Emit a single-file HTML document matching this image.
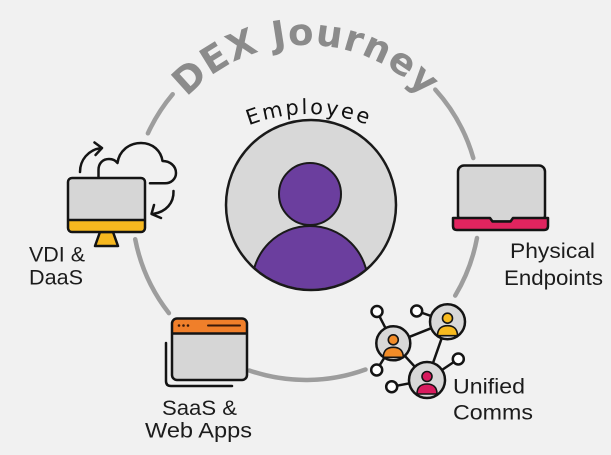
<!DOCTYPE html>
<html>
<head>
<meta charset="utf-8">
<style>
html,body{margin:0;padding:0;background:#f1f1f1;}
svg{display:block;}
text{font-family:"Liberation Sans", sans-serif;}
</style>
</head>
<body>
<svg width="611" height="455" viewBox="0 0 611 455" xmlns="http://www.w3.org/2000/svg">
  <defs>
    <path id="arcDex" d="M145,206 A161,161 0 0 1 467,206"/>
    <path id="arcEmp" d="M144,279 A165,165 0 0 1 474,279"/>
    <clipPath id="empClip"><circle cx="311" cy="205" r="84"/></clipPath>
  </defs>
  <rect width="611" height="455" fill="#f1f1f1"/>

  <!-- Ring segments -->
  <g fill="none" stroke="#9d9d9d" stroke-width="4.5" stroke-linecap="round">
    <path d="M435.3,89.6 A174,174 0 0 1 473.3,158"/>
    <path d="M477,238 A174,174 0 0 1 455.2,295.6"/>
    <path d="M365.5,369.5 A174,174 0 0 1 249.3,370.5"/>
    <path d="M168.9,313.1 A174,174 0 0 1 135.2,239.2"/>
    <path d="M147.9,133.3 A174,174 0 0 1 172.7,94.2"/>
  </g>

  <!-- DEX Journey title -->
  <text font-size="37" font-weight="bold" fill="#8b8b8b" letter-spacing="1" style="font-family:'DejaVu Sans','Liberation Sans',sans-serif;">
    <textPath href="#arcDex" startOffset="50%" text-anchor="middle">DEX Journey</textPath>
  </text>

  <!-- Employee label -->
  <text font-size="21" fill="#111" letter-spacing="2.4" style="font-family:'DejaVu Sans','Liberation Sans',sans-serif;">
    <textPath href="#arcEmp" startOffset="50%" text-anchor="middle">Employee</textPath>
  </text>

  <!-- Employee circle -->
  <circle cx="311" cy="205" r="85" fill="#d8d8d8"/>
  <g clip-path="url(#empClip)">
    <circle cx="310" cy="284" r="58" fill="#6b3e9e" stroke="#1a1a1a" stroke-width="2"/>
  </g>
  <circle cx="310" cy="194" r="31" fill="#6b3e9e" stroke="#1a1a1a" stroke-width="2"/>
  <circle cx="311" cy="205" r="85" fill="none" stroke="#1a1a1a" stroke-width="2.5"/>

  <!-- VDI & DaaS icon -->
  <g fill="none" stroke="#141414" stroke-width="2.5" stroke-linecap="round" stroke-linejoin="round">
    <path d="M98.5,178 L98.5,170 C98.5,163 103,159 109,159 C113,159 116,161 117.5,163 C119,151 129,143 141,143 C153,143 161,151 162.5,161 C170,161 176,166 176,173 C176,179 171,183.3 165,183.3 L150,183.3" fill="#f1f1f1"/>
    <path d="M80,172 C80,160 88,150 101,148"/>
    <path d="M94.5,142.5 L102,148 L95.5,155"/>
    <path d="M173.5,191 C174,203 166,212 153,214"/>
    <path d="M154,205 L151.5,214 L161,218"/>
  </g>
  <path d="M100,232 L113,232 L118,246 L95,246 Z" fill="#f7b81f" stroke="#141414" stroke-width="2.5" stroke-linejoin="round"/>
  <rect x="68" y="178" width="77" height="54" rx="4" fill="#f7b81f"/>
  <path d="M68,220 V182 Q68,178 72,178 H141 Q145,178 145,182 V220 Z" fill="#d6d6d6"/>
  <line x1="68" y1="220" x2="145" y2="220" stroke="#141414" stroke-width="2.5"/>
  <rect x="68" y="178" width="77" height="54" rx="4" fill="none" stroke="#141414" stroke-width="2.5"/>

  <!-- Laptop icon -->
  <rect x="458" y="165.5" width="87" height="56" rx="6" fill="#d6d6d6" stroke="#141414" stroke-width="2.5"/>
  <path d="M453,218 H490 L492.5,221.5 H510.5 L513,218 H548 V226 Q548,230 544,230 H457 Q453,230 453,226 Z" fill="#e1245f" stroke="#141414" stroke-width="2.5" stroke-linejoin="round"/>

  <!-- SaaS window icon -->
  <path d="M166,343 V381 Q166,386 171,386 H232" fill="none" stroke="#141414" stroke-width="2.5" stroke-linecap="round"/>
  <rect x="172" y="318.5" width="75" height="61.5" rx="5" fill="#d6d6d6"/>
  <path d="M172,333.5 V323.5 Q172,318.5 177,318.5 H242 Q247,318.5 247,323.5 V333.5 Z" fill="#f07f2a"/>
  <line x1="172" y1="333.5" x2="247" y2="333.5" stroke="#141414" stroke-width="2.5"/>
  <rect x="172" y="318.5" width="75" height="61.5" rx="5" fill="none" stroke="#141414" stroke-width="2.5"/>
  <circle cx="179" cy="325.5" r="1.3" fill="#3a1a0a"/>
  <circle cx="183.5" cy="325.5" r="1.3" fill="#3a1a0a"/>
  <circle cx="188" cy="325.5" r="1.3" fill="#3a1a0a"/>
  <line x1="208" y1="325.5" x2="240" y2="325.5" stroke="#3a1a0a" stroke-width="2" stroke-linecap="round"/>

  <!-- Unified Comms network -->
  <g stroke="#141414" stroke-width="2.5">
    <line x1="393.3" y1="343.3" x2="447.5" y2="321.7"/>
    <line x1="447.5" y1="321.7" x2="427" y2="380"/>
    <line x1="393.3" y1="343.3" x2="427" y2="380"/>
    <line x1="377" y1="311.5" x2="393.3" y2="343.3"/>
    <line x1="416.7" y1="311" x2="447.5" y2="321.7"/>
    <line x1="458.3" y1="359" x2="427" y2="380"/>
    <line x1="376.7" y1="370" x2="393.3" y2="343.3"/>
    <line x1="391.7" y1="386.7" x2="427" y2="380"/>
  </g>
  <g fill="#ffffff" stroke="#141414" stroke-width="2.5">
    <circle cx="377" cy="311.5" r="5.5"/>
    <circle cx="416.7" cy="311" r="5.5"/>
    <circle cx="458.3" cy="359" r="5.5"/>
    <circle cx="376.7" cy="370" r="5.5"/>
    <circle cx="391.7" cy="386.7" r="5.5"/>
  </g>
  <!-- orange person -->
  <circle cx="393.3" cy="343.3" r="17" fill="#d8d8d8" stroke="#141414" stroke-width="2.5"/>
  <path d="M383.3,357.3 C383.3,350.3 387.3,347.3 393.3,347.3 C399.3,347.3 403.3,350.3 403.3,357.3 Z" fill="#f28c28" stroke="#141414" stroke-width="1.6"/>
  <circle cx="393.3" cy="339.8" r="5" fill="#f28c28" stroke="#141414" stroke-width="1.6"/>
  <!-- yellow person -->
  <circle cx="447.5" cy="321.7" r="17.5" fill="#d8d8d8" stroke="#141414" stroke-width="2.5"/>
  <path d="M437.5,335.7 C437.5,328.7 441.5,325.7 447.5,325.7 C453.5,325.7 457.5,328.7 457.5,335.7 Z" fill="#f8bb1f" stroke="#141414" stroke-width="1.6"/>
  <circle cx="447.5" cy="318.2" r="5" fill="#f8bb1f" stroke="#141414" stroke-width="1.6"/>
  <!-- pink person -->
  <circle cx="427" cy="380" r="18" fill="#d8d8d8" stroke="#141414" stroke-width="2.5"/>
  <path d="M417,394 C417,387 421,384 427,384 C433,384 437,387 437,394 Z" fill="#d81b5e" stroke="#141414" stroke-width="1.6"/>
  <circle cx="427" cy="376.5" r="5" fill="#d81b5e" stroke="#141414" stroke-width="1.6"/>

  <!-- Labels -->
  <g font-size="21" fill="#1c1c1c">
    <text x="29" y="261.7" textLength="56" lengthAdjust="spacingAndGlyphs">VDI &amp;</text>
    <text x="29" y="284.3" textLength="54" lengthAdjust="spacingAndGlyphs">DaaS</text>
    <text x="510" y="258" textLength="85" lengthAdjust="spacingAndGlyphs">Physical</text>
    <text x="504" y="285" textLength="99" lengthAdjust="spacingAndGlyphs">Endpoints</text>
    <text x="453" y="393.3" textLength="72" lengthAdjust="spacingAndGlyphs">Unified</text>
    <text x="453" y="419.3" textLength="80" lengthAdjust="spacingAndGlyphs">Comms</text>
    <text x="162" y="415" textLength="75" lengthAdjust="spacingAndGlyphs">SaaS &amp;</text>
    <text x="145" y="437.3" textLength="107" lengthAdjust="spacingAndGlyphs">Web Apps</text>
  </g>
</svg>
</body>
</html>
